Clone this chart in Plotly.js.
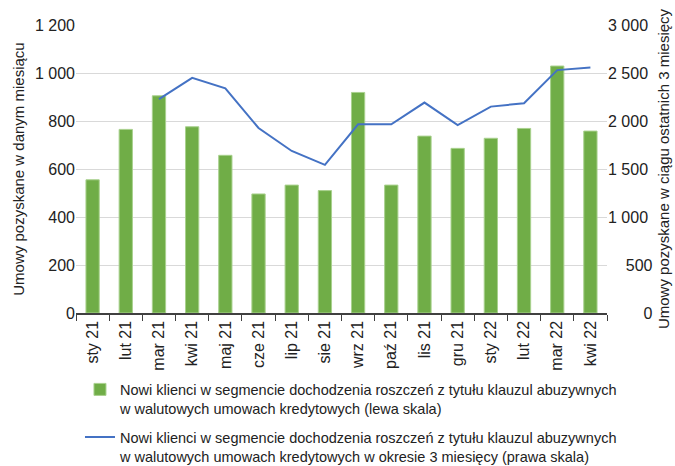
<!DOCTYPE html>
<html>
<head>
<meta charset="utf-8">
<script src="https://cdn.plot.ly/plotly-3.0.1.min.js"></script>
<style>html,body{margin:0;padding:0;background:#fff;}#chart{width:675px;height:466px;}</style>
</head>
<body>
<div id="chart"></div>
<script>
const months = ["sty 21","lut 21","mar 21","kwi 21","maj 21","cze 21","lip 21","sie 21","wrz 21","paź 21","lis 21","gru 21","sty 22","lut 22","mar 22","kwi 22"];
const monthlyClients = [555, 765, 905, 776, 657, 496, 533, 510, 919, 533, 737, 686, 728, 769, 1029, 758];
const threeMonthMonths = ["mar 21","kwi 21","maj 21","cze 21","lip 21","sie 21","wrz 21","paź 21","lis 21","gru 21","sty 22","lut 22","mar 22","kwi 22"];
const threeMonthClients = [2227, 2450, 2340, 1927, 1688, 1543, 1966, 1966, 2192, 1958, 2150, 2185, 2530, 2556];
const barName = "Nowi klienci w segmencie dochodzenia roszczeń z tytułu klauzul abuzywnych<br>w walutowych umowach kredytowych (lewa skala)";
const lineName = "Nowi klienci w segmencie dochodzenia roszczeń z tytułu klauzul abuzywnych<br>w walutowych umowach kredytowych w okresie 3 miesięcy (prawa skala)";

const FONT = '"Liberation Sans", Arial, sans-serif';

const traces = [
  {type: 'bar', x: months, y: monthlyClients, name: barName, yaxis: 'y', legendgroup: 'a',
   marker: {color: '#70ad47', line: {color: '#a9d18e', width: 1}}},
  {type: 'scatter', mode: 'lines', x: threeMonthMonths, y: threeMonthClients, name: lineName, yaxis: 'y2', legendgroup: 'b',
   line: {color: '#4472c4', width: 2}}
];

const layout = {
  width: 675, height: 466,
  margin: {l: 76, r: 68, t: 25, b: 153, autoexpand: false},
  paper_bgcolor: '#fff', plot_bgcolor: '#fff',
  font: {family: FONT, size: 16, color: '#222'},
  separators: ', ',
  bargap: 0.6,
  showlegend: true,
  xaxis: {
    type: 'category', categoryorder: 'array', categoryarray: months,
    tickangle: -90, ticks: 'outside', tickson: 'boundaries', ticklen: 6, tickcolor: '#404040',
    showline: true, linecolor: '#404040', linewidth: 1.5, showgrid: false,
    tickfont: {size: 16, color: '#222'}, automargin: false
  },
  yaxis: {
    range: [0, 1200], dtick: 200, separatethousands: true,
    showgrid: true, gridcolor: '#d9d9d9', gridwidth: 1, zeroline: false,
    showline: false, ticks: '', tickfont: {size: 16, color: '#222'},
    title: {text: 'Umowy pozyskane w danym miesiącu', font: {size: 15, color: '#222'}, standoff: 6},
    automargin: false
  },
  yaxis2: {
    overlaying: 'y', side: 'right', range: [0, 3000], dtick: 500,
    tickformat: '\u2007>5,d',
    showgrid: false, zeroline: false, showline: false, ticks: '',
    tickfont: {size: 16, color: '#222'},
    title: {text: 'Umowy pozyskane w ciągu ostatnich 3 miesięcy', font: {size: 15, color: '#222'}, standoff: 6},
    automargin: false
  },
  legend: {
    x: 0.0075, xanchor: 'left', y: -0.21, yanchor: 'top', orientation: 'v',
    valign: 'top', tracegroupgap: 7, font: {size: 14.5, color: '#222'},
    bgcolor: 'rgba(0,0,0,0)'
  }
};

Plotly.newPlot('chart', traces, layout, {displayModeBar: false, staticPlot: true});
</script>
</body>
</html>
